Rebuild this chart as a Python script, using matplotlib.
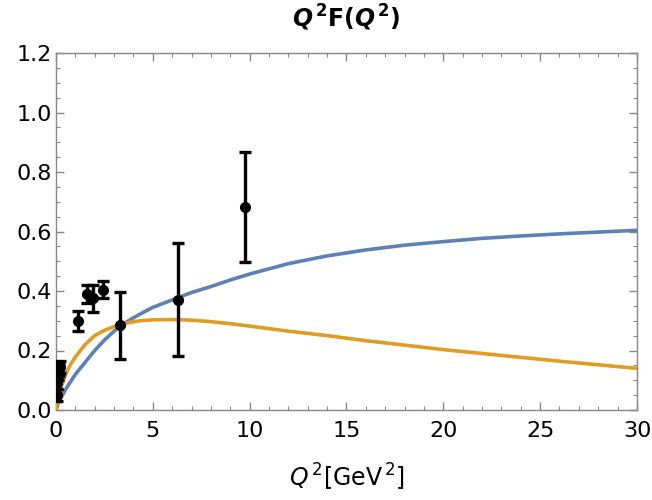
import numpy as np
import matplotlib
matplotlib.use("Agg")
import matplotlib.pyplot as plt

# Data points (Q^2, Q^2 F(Q^2), symmetric error)
data_q2 = [0.03, 0.07, 0.11, 0.15, 0.19, 1.15, 1.58, 1.93, 2.44, 3.30, 6.31, 9.76]
data_val = [0.05, 0.09, 0.12, 0.135, 0.145, 0.300, 0.390, 0.375, 0.405, 0.285, 0.370, 0.683]
data_err = [0.02, 0.02, 0.02, 0.02, 0.02, 0.033, 0.030, 0.045, 0.028, 0.112, 0.190, 0.185]

# Model curves
curve_q2 = [0, 0.1, 0.25, 0.5, 0.75, 1, 1.5, 2, 2.5, 3, 3.5, 4, 4.5, 5, 6, 7, 8, 9, 10,
            12, 14, 16, 18, 20, 22, 24, 26, 28, 30]
blue_val = [0, 0.02, 0.04, 0.07, 0.095, 0.12, 0.16, 0.2, 0.235, 0.265, 0.29, 0.31, 0.328,
            0.345, 0.37, 0.395, 0.415, 0.437, 0.457, 0.492, 0.518, 0.538, 0.554, 0.566,
            0.577, 0.585, 0.592, 0.598, 0.604]
orange_val = [0, 0.04, 0.075, 0.12, 0.153, 0.178, 0.22, 0.25, 0.268, 0.28, 0.29, 0.297,
              0.301, 0.303, 0.304, 0.302, 0.297, 0.29, 0.282, 0.265, 0.25, 0.233, 0.218,
              0.203, 0.19, 0.177, 0.164, 0.152, 0.14]

plt.rcParams['font.family'] = ['DejaVu Sans']
plt.rcParams['mathtext.fontset'] = 'custom'
plt.rcParams['mathtext.rm'] = 'DejaVu Sans'
plt.rcParams['mathtext.it'] = 'DejaVu Sans:italic'
plt.rcParams['mathtext.bf'] = 'DejaVu Sans:italic:bold'
plt.rcParams['mathtext.sf'] = 'DejaVu Sans:bold'

fig = plt.figure(figsize=(6.52, 5.0), dpi=100)
ax = fig.add_axes([0.0859, 0.18, 0.891, 0.714])

ax.plot(curve_q2, blue_val, color='#5E81B5', lw=2.6, zorder=2)
ax.plot(curve_q2, orange_val, color='#E19C24', lw=2.6, zorder=3)
ax.errorbar(data_q2, data_val, yerr=data_err, fmt='o', color='black', ms=7,
            elinewidth=2.4, capsize=4, capthick=2.4, zorder=4)

ax.set_xlim(0, 30)
ax.set_ylim(0, 1.2)
ax.set_xticks(np.arange(0, 31, 5))
ax.set_yticks(np.arange(0, 1.21, 0.2))
ax.set_yticklabels(['0.0', '0.2', '0.4', '0.6', '0.8', '1.0', '1.2'])
ax.set_xticks(np.arange(0, 31, 1), minor=True)
ax.set_yticks(np.arange(0, 1.21, 0.05), minor=True)
ax.tick_params(which='both', direction='in', top=True, right=True, color='#888888')
ax.tick_params(which='major', length=6, width=1, labelsize=16)
ax.tick_params(axis='x', which='major', pad=8)
ax.tick_params(axis='y', which='major', pad=3)
ax.tick_params(which='minor', length=3, width=0.8)
for sp in ax.spines.values():
    sp.set_color('#888888')
    sp.set_linewidth(1.0)

ax.set_title(r'$\mathbf{Q}^{\,\mathsf{2}}$F($\mathbf{Q}^{\,\mathsf{2}}$)', fontsize=17,
             fontweight='bold', pad=19)
ax.set_xlabel(r'$Q^{\,\mathrm{2}}$[GeV$^{\,\mathrm{2}}$]', fontsize=17, labelpad=15)

fig.savefig('out.png', dpi=100, facecolor='white')
